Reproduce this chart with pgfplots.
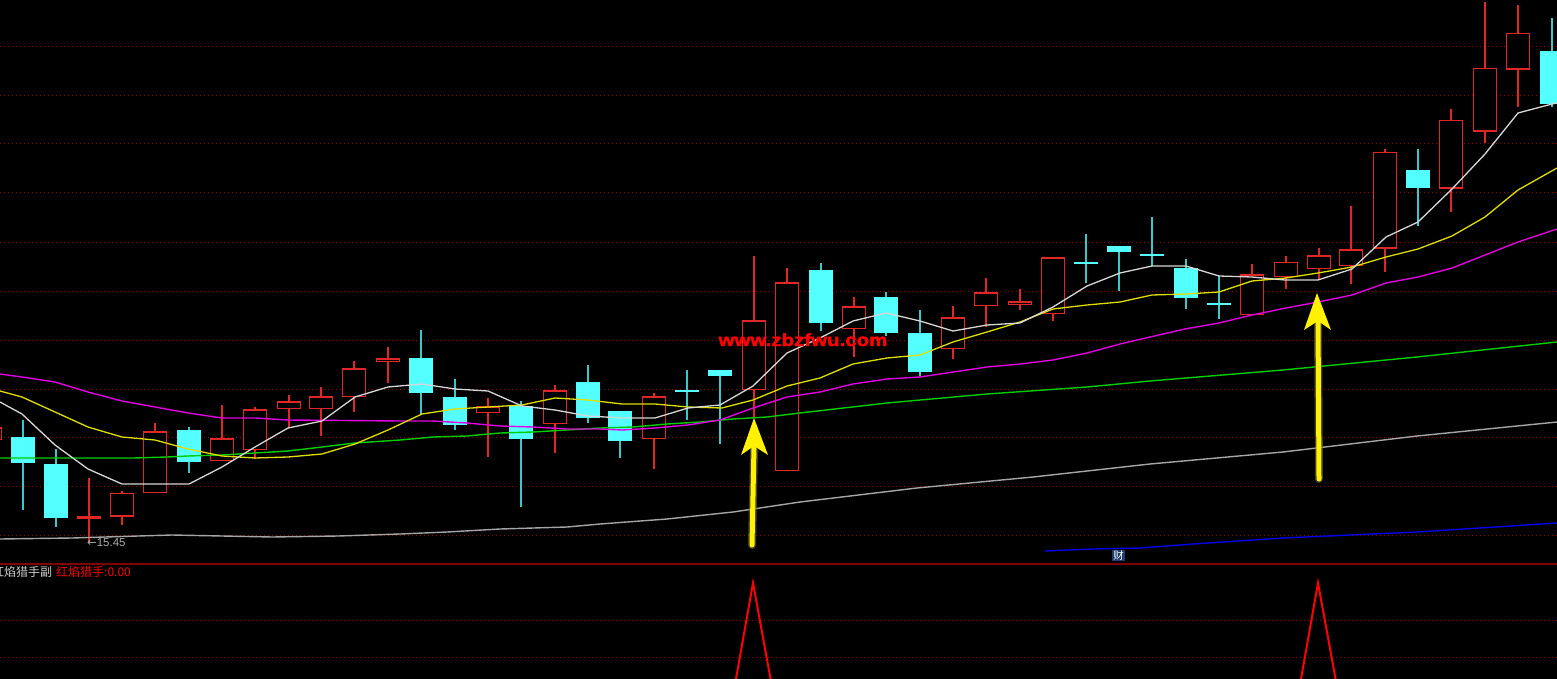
\documentclass[border=0pt]{standalone}
\usepackage{pgfplots}
\usepackage{pgfplotstable}
\pgfplotsset{compat=1.18}
\usepackage{fontspec}
\setmainfont{Liberation Sans}
\newfontfamily\cjk{Noto Sans CJK SC}
\newfontfamily\dejavu{DejaVu Sans}
\newfontfamily\wmfont[FakeBold=2.2]{Liberation Sans Bold}
\definecolor{cred}{RGB}{225,38,38}
\definecolor{ccyan}{RGB}{84,255,255}
\definecolor{cwick}{RGB}{60,200,200}
\definecolor{gridred}{RGB}{150,0,0}
\definecolor{sepred}{RGB}{128,0,0}
\definecolor{maA}{RGB}{215,215,215}
\definecolor{maB}{RGB}{222,222,0}
\definecolor{maC}{RGB}{225,0,225}
\definecolor{maD}{RGB}{0,205,0}
\definecolor{maE}{RGB}{165,165,165}
\definecolor{maF}{RGB}{0,0,235}
\definecolor{caibg}{RGB}{30,60,110}

% up (hollow red) candles: x high low bodytop bodybottom (pixel rows)
\pgfplotstableread{
x hi lo top bot
-10 420 450 427 440
89 478 542 516 519
122 491 525 493 517
155 423 493 431 493
222 405 461 438 461
255 407 459 409 450
289 395 428 401 409
321 387 436 396 409
354 361 412 368 397
388 347 383 358 362
488 398 457 406 413
555 385 453 390 424
654 393 469 396 439
754 256 418 320 390
787 268 471 282 471
854 297 357 306 329
953 306 359 317 349
986 278 327 292 306
1020 289 310 301 305
1053 257 321 257 314
1252 264 315 274 315
1286 256 289 262 277
1319 248 279 255 269
1351 206 284 249 266
1385 149 272 152 249
1451 109 212 120 189
1485 2 143 68 132
1518 5 107 33 70
}\redtab

% down (filled cyan) candles
\pgfplotstableread{
x hi lo top bot
23 420 510 437 463
56 449 527 464 518
189 427 473 430 462
421 330 415 358 393
455 379 430 397 425
521 401 507 406 439
588 365 423 382 418
620 411 458 411 441
687 370 420 390 392
720 370 444 370 376
821 263 331 270 323
886 292 336 297 333
920 310 376 333 372
1086 234 283 262 264
1119 246 291 246 252
1152 217 266 254 256
1186 259 309 268 298
1219 276 319 303 305
1418 149 226 170 188
1552 18 107 51 104
}\cyantab

\begin{document}
\begin{tikzpicture}
\path[use as bounding box] (0,0) rectangle (1557pt,679pt);
\clip (0,0) rectangle (1557pt,679pt);
\fill[black] (0,0) rectangle (1557pt,679pt);
\begin{axis}[at={(0,0)}, anchor=south west, scale only axis,
  width=1557pt, height=679pt,
  xmin=0, xmax=1557, ymin=0, ymax=679, y dir=reverse,
  axis line style={draw=none}, xtick=\empty,
  ytick={47,96,144,193,242,291,340,389,437,486,535,620,657},
  yticklabels={}, major tick length=0pt,
  ymajorgrids, grid style={gridred, line width=1pt, dash pattern=on 1pt off 3pt},
  clip=true]

% separator of the two panels
\draw[sepred, line width=2pt] (axis cs:0,563.5) -- (axis cs:1557,563.5);

% ---- red candles: wicks, outline, hollow inside
\addplot[draw=none, mark=none, error bars/.cd, y dir=both, y explicit, error mark=none,
  error bar style={draw=cred, line width=1.3pt}]
  table[x=x, y expr={(\thisrow{hi}+\thisrow{lo})/2}, y error expr={(\thisrow{lo}-\thisrow{hi})/2}] {\redtab};
\addplot[draw=none, mark=none, error bars/.cd, y dir=both, y explicit, error mark=none,
  error bar style={draw=cred, line width=24pt, line cap=butt}]
  table[x=x, y expr={(\thisrow{top}+\thisrow{bot})/2}, y error expr={(\thisrow{bot}-\thisrow{top})/2}] {\redtab};
\addplot[draw=none, mark=none, error bars/.cd, y dir=both, y explicit, error mark=none,
  error bar style={draw=black, line width=21.2pt, line cap=butt}]
  table[x=x, y expr={(\thisrow{top}+\thisrow{bot})/2}, y error expr={max((\thisrow{bot}-\thisrow{top})/2-1.5,0)}] {\redtab};

% ---- cyan candles
\addplot[draw=none, mark=none, error bars/.cd, y dir=both, y explicit, error mark=none,
  error bar style={draw=cwick, line width=1.3pt}]
  table[x=x, y expr={(\thisrow{hi}+\thisrow{lo})/2}, y error expr={(\thisrow{lo}-\thisrow{hi})/2}] {\cyantab};
\addplot[draw=none, mark=none, error bars/.cd, y dir=both, y explicit, error mark=none,
  error bar style={draw=ccyan, line width=24pt, line cap=butt}]
  table[x=x, y expr={(\thisrow{top}+\thisrow{bot})/2}, y error expr={max((\thisrow{bot}-\thisrow{top})/2,1)}] {\cyantab};

% ---- moving averages
\addplot[maE, line width=1.4pt] coordinates {(0,539) (72,538) (138,536) (172,535) (272,537) (338,536) (400,534) (447,532) (500,529) (567,527) (600,524) (667,519) (733,512) (800,502) (917,488) (1033,477) (1150,464) (1283,452) (1417,436) (1557,422)};
\addplot[maF, line width=1.4pt] coordinates {(1045,551) (1093,549) (1140,548) (1193,544) (1283,538) (1417,532) (1557,523)};
\addplot[maD, line width=1.4pt] coordinates {(0,458) (133,458) (167,457) (188,456) (222,455) (255,453) (288,451) (322,447) (355,443) (400,440) (433,437) (467,436) (500,433) (533,432) (567,430) (600,428) (633,427) (667,424) (700,422) (733,419) (767,417) (800,413) (887,403) (987,394) (1087,387) (1150,381) (1283,370) (1417,357) (1557,342)};
\addplot[maC, line width=1.4pt] coordinates {(0,374) (22,377) (55,382) (88,392) (122,401) (155,407) (188,413) (222,418) (255,418) (288,420) (400,421) (433,421) (467,423) (500,426) (533,427) (567,429) (600,429) (622,430) (655,428) (688,425) (720,420) (753,408) (787,397) (820,392) (853,384) (887,379) (920,377) (953,372) (987,367) (1020,364) (1053,360) (1087,353) (1120,344) (1150,337) (1185,329) (1219,323) (1252,315) (1286,308) (1318,302) (1352,295) (1386,283) (1418,277) (1452,268) (1485,255) (1518,242) (1557,229)};
\addplot[maB, line width=1.3pt] coordinates {(0,391) (22,397) (55,412) (88,427) (122,437) (155,440) (188,449) (222,456) (255,458) (288,457) (322,454) (355,444) (388,430) (422,414) (455,409) (488,407) (522,405) (555,398) (588,400) (622,404) (655,404) (688,407) (722,408) (753,400) (787,386) (820,378) (853,364) (887,358) (920,355) (953,342) (987,332) (1020,322) (1053,309) (1087,305) (1120,302) (1152,295) (1186,294) (1219,292) (1252,281) (1286,278) (1318,273) (1352,267) (1386,257) (1418,249) (1452,236) (1485,217) (1518,190) (1557,168)};
\addplot[maA, line width=1.3pt] coordinates {(0,402) (22,414) (55,445) (88,469) (122,484) (189,484) (222,467) (255,447) (288,428) (322,421) (355,397) (388,387) (422,384) (455,389) (488,391) (522,406) (555,410) (588,416) (622,418) (655,418) (688,408) (720,405) (753,386) (787,353) (820,338) (853,321) (886,313) (920,321) (953,331) (987,325) (1020,323) (1053,307) (1087,286) (1120,273) (1152,266) (1186,266) (1219,276) (1252,277) (1285,280) (1318,280) (1352,269) (1386,237) (1418,222) (1452,189) (1485,154) (1518,113) (1552,104) (1557,103)};

% ---- lower panel indicator
\addplot[red, line width=2pt] coordinates {(0,769) (687,769) (720,769) (753,583) (787,769) (1285,769) (1318,583) (1352,769) (1557,769)};

% ---- annotations
\node[text=red, font=\wmfont\fontsize{17.5}{18}\selectfont, xscale=1.17, anchor=base, inner sep=0pt] at (axis cs:803,346) {www.zbzfwu.com};
\node[text=maE!90!white, font=\fontsize{11.5}{12}\selectfont, anchor=west, inner sep=0pt] at (axis cs:87,543) {{\dejavu ←}15.45};
\node[fill=caibg, text=white, font=\cjk\fontsize{10.5}{11}\selectfont, inner sep=1pt] at (axis cs:1118.5,555.5) {财};
\node[text=white!80!black, font=\cjk\fontsize{12}{12}\selectfont, anchor=west, inner sep=0pt] at (axis cs:-8,572) {红焰猎手副};
\node[text=red, font=\cjk\fontsize{12}{12}\selectfont, anchor=west, inner sep=0pt] at (axis cs:56,572) {红焰猎手:0.00};

% yellow arrows
\draw[yellow!35!black, line width=8pt, line cap=round, opacity=0.6] (axis cs:752,545) -- (axis cs:754,450);
\draw[yellow, line width=5pt, line cap=round] (axis cs:752,545) -- (axis cs:754,446);
\fill[yellow] (axis cs:754,418) -- (axis cs:768,455) -- (axis cs:754,446) -- (axis cs:741,455) -- cycle;
\draw[yellow!35!black, line width=8pt, line cap=round, opacity=0.6] (axis cs:1319,479) -- (axis cs:1318,325);
\draw[yellow, line width=5pt, line cap=round] (axis cs:1319,479) -- (axis cs:1318,321);
\fill[yellow] (axis cs:1317,293) -- (axis cs:1331,330) -- (axis cs:1318,321) -- (axis cs:1304,330) -- cycle;
\end{axis}
\end{tikzpicture}
\end{document}
